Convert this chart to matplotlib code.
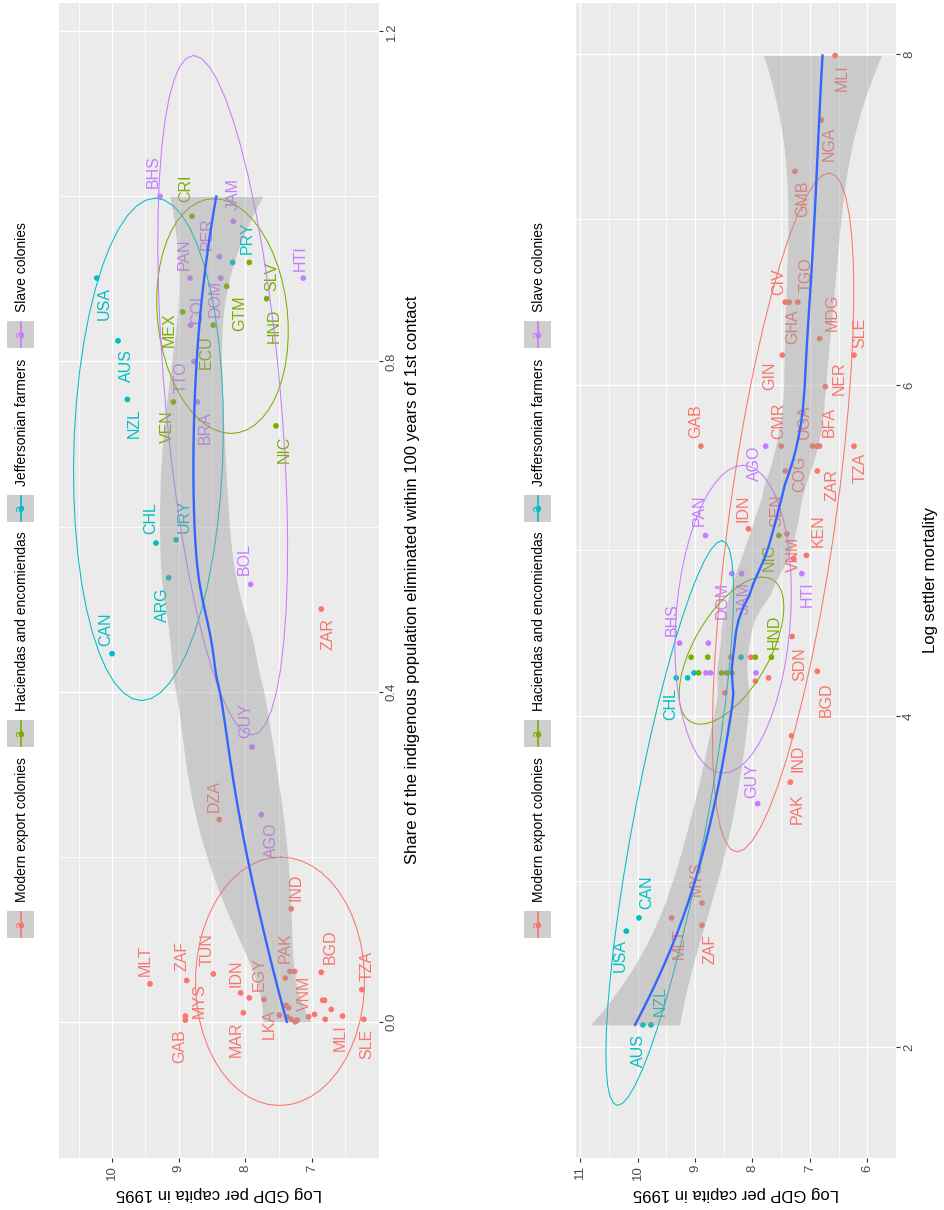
import numpy as np
import matplotlib
matplotlib.use('Agg')
import matplotlib.pyplot as plt
from matplotlib.patches import Rectangle
from matplotlib.lines import Line2D

plt.rcParams['font.family'] = ['Liberation Sans', 'DejaVu Sans']

W, H = 945, 1210

GROUPS = ['Modern export colonies', 'Haciendas and encomiendas',
          'Jeffersonian farmers', 'Slave colonies']
COLOURS = ['#F8766D', '#7CAE00', '#00BFC4', '#C77CFF']

# --- panel 1: share of indigenous population eliminated ------------------
p1_code = ['MLT', 'ZAF', 'MYS', 'GAB', 'TUN', 'IDN', 'MAR', 'EGY', 'LKA', '',
           '', 'PAK', '', '', '', '', '', '', 'VNM', '',
           '', 'BGD', '', '', '', '', 'MLI', 'TZA', 'SLE', 'IND',
           'DZA', 'ZAR',
           'CRI', 'SLV', 'GTM', 'HND', 'MEX', 'ECU', 'VEN', 'NIC',
           'USA', 'PRY', 'AUS', 'NZL', 'CHL', 'URY', 'ARG', 'CAN',
           'BHS', 'JAM', 'PER', 'PAN', 'DOM', 'HTI', 'COL', 'TTO', 'BRA', 'BOL',
           'GUY', 'AGO']
p1_group = [0] * 32 + [1] * 8 + [2] * 8 + [3] * 12
p1_share = [0.046, 0.050, 0.007, 0.002, 0.058, 0.035, 0.011, 0.029, 0.027, 0.008,
            0.053, 0.061, 0.061, 0.020, 0.017, 0.006, 0.003, 0.000, 0.002, 0.006,
            0.009, 0.060, 0.026, 0.026, 0.003, 0.015, 0.007, 0.039, 0.003, 0.137,
            0.245, 0.500,
            0.976, 0.920, 0.891, 0.876, 0.860, 0.844, 0.751, 0.722,
            0.901, 0.920, 0.825, 0.754, 0.580, 0.584, 0.538, 0.446,
            1.000, 0.970, 0.927, 0.901, 0.901, 0.901, 0.844, 0.800, 0.751, 0.530,
            0.333, 0.251]
p1_gdp = [9.43, 8.88, 8.90, 8.90, 8.48, 8.07, 8.03, 7.94, 7.72, 7.49,
          7.40, 7.33, 7.26, 7.39, 7.35, 7.37, 7.31, 7.25, 7.22, 7.05,
          6.96, 6.86, 6.84, 6.81, 6.80, 6.71, 6.54, 6.25, 6.22, 7.31,
          8.39, 6.86,
          8.80, 7.94, 8.28, 7.68, 8.94, 8.48, 9.08, 7.54,
          10.23, 8.19, 9.91, 9.77, 9.34, 9.04, 9.15, 10.00,
          9.28, 8.18, 8.39, 8.83, 8.37, 7.13, 8.82, 8.77, 8.72, 7.92,
          7.90, 7.76]

# --- panel 2: settler mortality ------------------------------------------
p2_code = ['MLI', 'NGA', 'GMB', 'CIV', 'GHA', 'TGO', 'MDG', 'GIN', 'SLE', 'NER',
           'GAB', 'CMR', 'UGA', 'BFA', '', 'TZA', 'COG', 'ZAR', 'IDN', 'SEN',
           'KEN', 'VNM', 'SDN', '', '', '', '', 'BGD', '', 'IND',
           'PAK', 'MLT', 'MYS', 'ZAF',
           '', '', '', 'HND', '', '', '', '', 'NIC',
           'AUS', 'NZL', 'USA', 'CAN', 'CHL', '', '', '',
           'BHS', '', '', '', '', 'PAN', 'AGO', 'DOM', 'JAM', 'HTI', 'GUY']
p2_group = [0] * 34 + [1] * 9 + [2] * 8 + [3] * 11
p2_mort = [7.99, 7.60, 7.29, 6.50, 6.50, 6.50, 6.28, 6.18, 6.18, 5.99,
           5.63, 5.63, 5.63, 5.63, 5.63, 5.63, 5.48, 5.48, 5.13, 5.10,
           4.97, 4.95, 4.48, 4.355, 4.355, 4.21, 4.23, 4.27, 4.14, 3.88,
           3.60, 2.78, 2.87, 2.735,
           4.355, 4.355, 4.355, 4.355, 4.26, 4.26, 4.26, 4.26, 5.09,
           2.134, 2.134, 2.70, 2.78, 4.23, 4.23, 4.26, 4.355,
           4.44, 4.44, 4.26, 4.26, 4.26, 5.09, 5.63, 4.86, 4.86, 4.86, 3.47]
p2_gdp = [6.56, 6.80, 7.26, 7.43, 7.36, 7.21, 6.83, 7.48, 6.23, 6.73,
          8.90, 7.50, 6.95, 6.87, 6.83, 6.23, 7.43, 6.87, 8.07, 7.40,
          7.06, 7.28, 7.31, 8.38, 8.03, 7.95, 7.72, 6.87, 8.48, 7.32,
          7.34, 9.41, 8.88, 8.88,
          9.07, 8.78, 7.95, 7.67, 8.94, 8.54, 8.45, 8.36, 7.54,
          9.91, 9.77, 10.20, 9.98, 9.33, 9.13, 9.02, 8.20,
          9.27, 8.77, 8.81, 8.73, 7.94, 8.82, 7.77, 8.36, 8.19, 7.14, 7.91]

gdp_ticks_1 = [7, 8, 9, 10]
share_ticks = [0.0, 0.4, 0.8, 1.2]
share_labels = ['0.0', '0.4', '0.8', '1.2']
gdp_ticks_2 = [6, 7, 8, 9, 10, 11]
mort_ticks = [2, 4, 6, 8]

# where each country label sits relative to its point (pixels, right / down)
NUDGE_1 = {
    'BHS': (-7, -25), 'CRI': (-6, -28), 'JAM': (0, -27), 'PAN': (-6, -24),
    'PER': (-12, -23), 'PRY': (15, -25), 'HTI': (-3, -20), 'SLV': (22, 14),
    'HND': (8, 27), 'MEX': (-13, 18), 'COL': (7, -18), 'DOM': (-5, 20),
    'ECU': (-7, 27), 'TTO': (-13, 16), 'GTM': (13, 27), 'VEN': (-6, 25),
    'BRA': (8, 26), 'NIC': (8, 23), 'AUS': (8, 25), 'NZL': (7, 24),
    'USA': (8, 25), 'CHL': (-5, -25), 'URY': (8, -24), 'BOL': (-6, -25),
    'ARG': (-6, 27), 'CAN': (-6, -24), 'ZAR': (7, 25), 'GUY': (-6, -26),
    'DZA': (-5, -24), 'AGO': (10, 26), 'IND': (5, -21), 'MLT': (-5, -23),
    'ZAF': (-5, -25), 'TUN': (-6, -24), 'MYS': (14, -15), 'GAB': (-6, 26),
    'IDN': (-5, -20), 'MAR': (-7, 27), 'EGY': (10, -24), 'LKA': (5, 24),
    'PAK': (-5, -24), 'VNM': (7, -27), 'BGD': (9, -26), 'MLI': (-2, 22),
    'TZA': (5, -24), 'SLE': (3, 25),
}
NUDGE_2 = {
    'MLI': (7, 22), 'NGA': (8, 24), 'GMB': (8, 27), 'CIV': (-6, -20),
    'TGO': (8, -27), 'GHA': (4, 25), 'MDG': (13, -26), 'GIN': (-13, 21),
    'NER': (14, -8), 'SLE': (6, -22), 'GAB': (-5, -25), 'AGO': (-11, 17),
    'CMR': (-2, -25), 'UGA': (-8, -25), 'BFA': (12, -24), 'TZA': (6, 22),
    'COG': (15, 3), 'ZAR': (15, 14), 'KEN': (12, -25), 'IDN': (-5, -21),
    'PAN': (-6, -25), 'SEN': (-10, -23), 'NIC': (-10, 22), 'VNM': (0, -4),
    'HTI': (5, 21), 'DOM': (-10, 27), 'JAM': (3, 24), 'HND': (3, -25),
    'BHS': (-7, -24), 'CHL': (-5, 26), 'SDN': (8, 28), 'BGD': (9, 28),
    'IND': (6, 23), 'PAK': (7, 26), 'GUY': (-6, -23), 'MYS': (-6, -24),
    'CAN': (8, -26), 'USA': (-6, 24), 'MLT': (8, 26), 'ZAF': (8, 24),
    'NZL': (9, -24), 'AUS': (-4, 26),
}


def t_975(df):
    z = 1.959963984540054
    g1 = (z**3 + z) / 4
    g2 = (5 * z**5 + 16 * z**3 + 3 * z) / 96
    g3 = (3 * z**7 + 19 * z**5 + 17 * z**3 - 15 * z) / 384
    return z + g1 / df + g2 / df**2 + g3 / df**3


def loess(x, y, grid, span=0.75):
    n = len(x)
    q = int(np.floor(n * span))

    def weights_row(x0):
        d = np.abs(x - x0)
        h = np.sort(d)[q - 1]
        w = np.clip(1 - (d / h) ** 3, 0, None) ** 3
        X = np.column_stack([np.ones(n), x - x0, (x - x0) ** 2])
        XtW = X.T * w
        return np.linalg.solve(XtW @ X, XtW)[0]

    L = np.array([weights_row(v) for v in x])
    Lg = np.array([weights_row(v) for v in grid])
    R = np.eye(n) - L
    M = R.T @ R
    one, two = np.trace(M), np.trace(M @ M)
    s = np.sqrt(np.sum((R @ y) ** 2) / one)
    fit = Lg @ y
    se = s * np.sqrt((Lg ** 2).sum(1))
    tq = t_975(one ** 2 / two)
    return fit, fit - tq * se, fit + tq * se


def norm_ellipse(x, y, level=0.7, segments=51):
    X = np.column_stack([x, y])
    n = len(X)
    centre = X.mean(0)
    cov = np.cov(X, rowvar=False)
    dfd = n - 1
    qf = dfd / 2 * ((1 - level) ** (-2 / dfd) - 1)   # F(2, dfd) quantile
    radius = np.sqrt(2 * qf)
    a = np.linspace(0, 2 * np.pi, segments)
    circle = np.column_stack([np.cos(a), np.sin(a)])
    pts = centre + radius * circle @ np.linalg.cholesky(cov).T
    return pts[:, 0], pts[:, 1]


def panel(ax, xv, gdp, group, codes, nudges, gdp_ticks, v_ticks, v_labels):
    xv, gdp, group = np.asarray(xv), np.asarray(gdp), np.asarray(group)
    h_vals, v_vals = [gdp], [xv]

    ax.scatter(gdp, xv, s=17, c=[COLOURS[g] for g in group], linewidths=0, zorder=3)
    for code, g, a, b in zip(codes, group, gdp, xv):
        if code:
            dx, dy = nudges[code]
            ax.annotate(code, (a, b), xytext=(dx, -dy), textcoords='offset pixels',
                        rotation=90, ha='center', va='center', fontsize=11.5,
                        color=COLOURS[g], zorder=4)

    for g in range(4):
        m = group == g
        ex, ey = norm_ellipse(xv[m], gdp[m])
        ax.plot(ey, ex, color=COLOURS[g], lw=0.75, zorder=5)
        h_vals.append(ey)
        v_vals.append(ex)

    order = np.argsort(xv, kind='stable')
    grid = np.linspace(xv.min(), xv.max(), 80)
    fit, lo, hi = loess(xv[order], gdp[order], grid)
    ax.fill_betweenx(grid, lo, hi, color='#999999', alpha=0.4, lw=0, zorder=6)
    ax.plot(fit, grid, color='#3366FF', lw=1.7, zorder=7)
    h_vals += [lo, hi]

    h = np.concatenate(h_vals)
    v = np.concatenate(v_vals)
    hpad = 0.05 * (h.max() - h.min())
    vpad = 0.05 * (v.max() - v.min())
    hlim = (h.min() - hpad, h.max() + hpad)
    vlim = (v.min() - vpad, v.max() + vpad)
    ax.set_xlim(hlim[1], hlim[0])
    ax.set_ylim(*vlim)

    ax.set_facecolor('#EBEBEB')
    for s in ax.spines.values():
        s.set_visible(False)
    ax.set_xticks(gdp_ticks)
    ax.set_xticklabels([str(t) for t in gdp_ticks])
    ax.set_yticks(v_ticks)
    ax.set_yticklabels(v_labels)
    step_h = gdp_ticks[1] - gdp_ticks[0]
    step_v = v_ticks[1] - v_ticks[0]
    minor_h = np.arange(gdp_ticks[0] - step_h / 2, hlim[1], step_h)
    minor_v = np.arange(v_ticks[0] - step_v / 2, vlim[1], step_v)
    ax.set_xticks(minor_h[minor_h > hlim[0]], minor=True)
    ax.set_yticks(minor_v[minor_v > vlim[0]], minor=True)
    ax.yaxis.tick_right()
    ax.grid(which='major', color='white', lw=1.0)
    ax.grid(which='minor', color='white', lw=0.55)
    ax.set_axisbelow(True)
    ax.tick_params(which='major', length=3, width=0.8, color='#333333',
                   labelsize=9.5, labelcolor='#4D4D4D', pad=2)
    ax.tick_params(which='minor', length=0)
    ax.tick_params(axis='x', labelrotation=90)
    ax.tick_params(axis='y', labelrotation=90)
    for t in ax.get_yticklabels():
        t.set_va('center')


def px(x, y):
    return x / W, 1 - y / H


def legend(fig, x0, y_bottom):
    renderer = fig.canvas.get_renderer()
    y = y_bottom
    key = 27
    for name, col in zip(GROUPS, COLOURS):
        bx, by = px(x0, y)
        fig.add_artist(Rectangle((bx, by), key / W, key / H, transform=fig.transFigure,
                                 facecolor='#CECECE', edgecolor='none'))
        cx = x0 + key / 2
        fig.add_artist(Line2D([cx / W, cx / W], [by + 1 / H, by + (key - 1) / H],
                              transform=fig.transFigure, color=col, lw=1.2))
        fig.add_artist(Line2D([cx / W], [by + key / 2 / H], transform=fig.transFigure,
                              marker='o', ms=4, color=col, mew=0))
        fig.text(cx / W, by + key / 2 / H, 'a', rotation=90, ha='center', va='center',
                 fontsize=9, color=col)
        ty = y - key - 9
        t = fig.text((x0 + 15) / W, 1 - ty / H, name, rotation=90, ha='center',
                     va='bottom', fontsize=10, color='black')
        ext = t.get_window_extent(renderer)
        y = ty - ext.height - 10


fig = plt.figure(figsize=(W / 100, H / 100), dpi=100)
fig.patch.set_facecolor('white')

top, bottom = 3, 1158
ax1 = fig.add_axes([59 / W, 1 - bottom / H, 320 / W, (bottom - top) / H])
ax2 = fig.add_axes([576 / W, 1 - bottom / H, 320 / W, (bottom - top) / H])

panel(ax1, p1_share, p1_gdp, p1_group, p1_code, NUDGE_1,
      gdp_ticks_1, share_ticks, share_labels)
panel(ax2, p2_mort, p2_gdp, p2_group, p2_code, NUDGE_2,
      gdp_ticks_2, mort_ticks, [str(t) for t in mort_ticks])

fig.text(*px(219, 1193), 'Log GDP per capita in 1995', rotation=180,
         ha='center', va='center', fontsize=12)
fig.text(*px(736, 1193), 'Log GDP per capita in 1995', rotation=180,
         ha='center', va='center', fontsize=12)
fig.text(*px(413, 580), 'Share of the indigenous population eliminated within 100 years of 1st contact',
         rotation=90, ha='center', va='center', fontsize=12)
fig.text(*px(931, 580), 'Log settler mortality', rotation=90,
         ha='center', va='center', fontsize=12)

legend(fig, 7, 938)
legend(fig, 524, 938)

fig.savefig('out.png', dpi=100)
